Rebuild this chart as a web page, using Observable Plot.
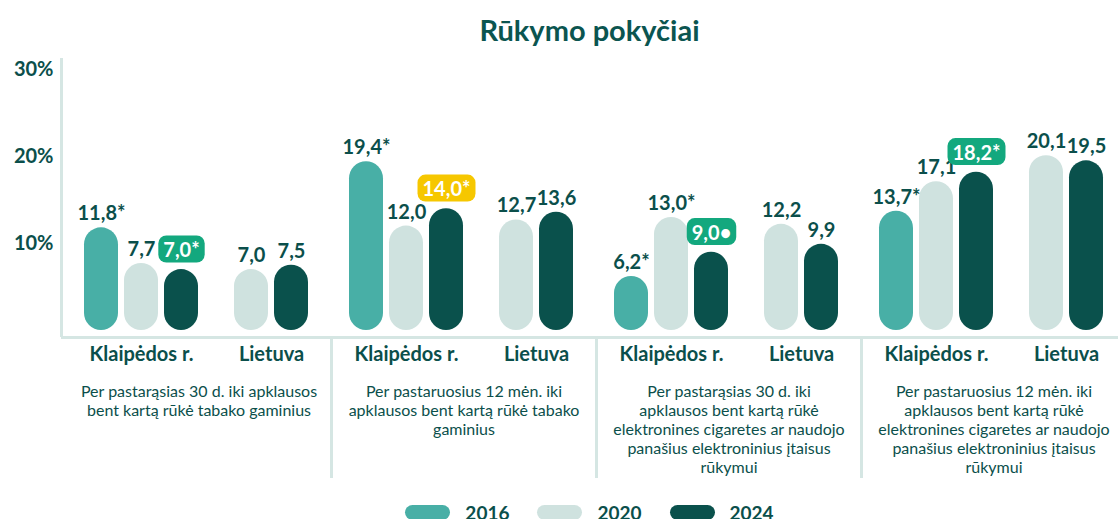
<!DOCTYPE html>
<html><head><meta charset="utf-8">
<script src="https://cdn.jsdelivr.net/npm/d3@7"></script>
<script src="https://cdn.jsdelivr.net/npm/@observablehq/plot@0.6"></script>
<style>
body{margin:0;background:#fff;font-family:Lato, "Noto Sans", sans-serif;color:#0b4f4b;width:1118px;overflow:hidden;}
#title{height:48px;box-sizing:border-box;padding-left:61px;padding-top:15px;text-align:center;font-weight:700;font-size:29px;line-height:1;color:#0b5550;}
#chart svg{display:block;}
#legend{display:flex;justify-content:center;padding-left:61px;margin-top:5px;height:20px;align-items:flex-start;}
.item{display:flex;align-items:center;margin:0 14px;}
.sw{width:45px;height:15px;border-radius:8px;margin-right:15px;}
.lab{font-weight:700;font-size:19px;line-height:15px;}
</style></head><body>
<div id="title">Rūkymo pokyčiai</div>
<div id="chart"></div>
<div id="legend"></div>
<script>
// ---- data ----
const sections = [
  "Per pastarąsias 30 d. iki apklausos\nbent kartą rūkė tabako gaminius",
  "Per pastaruosius 12 mėn. iki\napklausos bent kartą rūkė tabako\ngaminius",
  "Per pastarąsias 30 d. iki\napklausos bent kartą rūkė\nelektronines cigaretes ar naudojo\npanašius elektroninius įtaisus\nrūkymui",
  "Per pastaruosius 12 mėn. iki\napklausos bent kartą rūkė\nelektronines cigaretes ar naudojo\npanašius elektroninius įtaisus\nrūkymui"
];
const regions = ["Klaipėdos r.", "Lietuva"];
const years = [2016, 2020, 2024];
const klaipedaValues = [[11.8, 7.7, 7.0], [19.4, 12.0, 14.0], [6.2, 13.0, 9.0], [13.7, 17.1, 18.2]];
const klaipedaMarks = [["*", "", "*"], ["*", "", "*"], ["*", "*", "•"], ["*", "", "*"]];
const klaipedaBadges = [[null, null, "sig"], [null, null, "warn"], [null, null, "sig"], [null, null, "sig"]];
const lietuvaYears = [2020, 2024];
const lietuvaValues = [[7.0, 7.5], [12.7, 13.6], [12.2, 9.9], [20.1, 19.5]];
const yTicks = [10, 20, 30];

// ---- styles / layout ----
const yearColors = ["#48afa6", "#cfe2df", "#0a514c"];
const badgeColor = {sig: "#13a87e", warn: "#f6c700"};
const ink = "#0b4f4b";
const lineColor = "#d5e6e3";
const sectionSpan = 6.625, firstOffset = 0.875, lietuvaOffset = 3.75, halfBar = 0.425;

const rows = [];
sections.forEach((desc, s) => {
  years.forEach((y, j) => rows.push({section: s, region: regions[0], year: y, value: klaipedaValues[s][j], mark: klaipedaMarks[s][j], badge: klaipedaBadges[s][j]}));
  lietuvaYears.forEach((y, j) => rows.push({section: s, region: regions[1], year: y, value: lietuvaValues[s][j], mark: "", badge: null}));
});
const pos = d => d.section * sectionSpan + firstOffset +
  (d.region === regions[0] ? years.indexOf(d.year) : lietuvaOffset + lietuvaYears.indexOf(d.year));
const fmt = d => d.value.toFixed(1).replace(".", ",") + d.mark;
const plain = rows.filter(d => !d.badge);
const badged = rows.filter(d => d.badge);

const regionRows = [];
sections.forEach((desc, s) => regions.forEach((r, k) => regionRows.push({section: s, region: r,
  x: s * sectionSpan + firstOffset + (k === 0 ? (years.length - 1) / 2 : lietuvaOffset + (lietuvaYears.length - 1) / 2)})));
const descRows = sections.map((t, s) => ({t, x: s * sectionSpan + sectionSpan / 2}));
const boundaries = d3.range(1, sections.length).map(s => s * sectionSpan);

const chart = Plot.plot({
  width: 1118, height: 452,
  marginLeft: 66, marginRight: 0, marginTop: 21, marginBottom: 170,
  style: {fontFamily: "Lato, 'Noto Sans', sans-serif", color: ink, background: "#fff"},
  x: {domain: [0, (1118 - 66) / 40], axis: null},
  y: {domain: [0, 30], axis: null},
  color: {type: "ordinal", domain: years, range: yearColors},
  marks: [
    Plot.ruleY([0], {dy: 7, insetLeft: -5, stroke: lineColor, strokeWidth: 3}),
    Plot.ruleX([0], {dx: -5, insetTop: -11, insetBottom: -7, stroke: lineColor, strokeWidth: 3}),
    Plot.ruleX(boundaries, {x: d => d, insetTop: 269, insetBottom: -148, stroke: lineColor, strokeWidth: 3}),
    Plot.axisY(yTicks, {tickFormat: d => d + "%", tickSize: 0, tickPadding: 13, fontSize: 20, fontWeight: 700, label: null}),
    Plot.rect(rows, {x1: d => pos(d) - halfBar, x2: d => pos(d) + halfBar, y1: 0, y2: "value", fill: "year", rx: 17}),
    Plot.text(plain, {x: pos, y: "value", text: fmt, dy: -14, fontSize: 20, fontWeight: 700, fill: ink}),
    Plot.text(badged, {x: pos, y: "value", text: fmt, dy: -19, fontSize: 20, fontWeight: 700, fill: "white"}),
    Plot.text(regionRows, {x: "x", text: "region", frameAnchor: "bottom", dy: 30, fontSize: 20, fontWeight: 700, fill: ink}),
    Plot.text(descRows, {x: "x", text: "t", frameAnchor: "bottom", lineAnchor: "top", dy: 53, fontSize: 16, lineHeight: 1.19, fill: ink})
  ]
});
document.getElementById("chart").append(chart);

const badgeTexts = Array.from(chart.querySelectorAll("text")).filter(t => {
  const g = t.closest("g");
  return g && g.getAttribute("fill") === "white";
});
badgeTexts.forEach((t, i) => {
  if (!badged[i]) return;
  const b = t.getBBox();
  const r = document.createElementNS("http://www.w3.org/2000/svg", "rect");
  r.setAttribute("x", b.x - 5);
  r.setAttribute("y", b.y - 1.5);
  r.setAttribute("width", b.width + 10);
  r.setAttribute("height", b.height + 3);
  r.setAttribute("rx", 8);
  r.setAttribute("fill", badgeColor[badged[i].badge]);
  const tr = t.getAttribute("transform");
  if (tr) r.setAttribute("transform", tr);
  t.parentNode.insertBefore(r, t);
});

const legend = document.getElementById("legend");
years.forEach((y, i) => {
  const it = document.createElement("div"); it.className = "item";
  const sw = document.createElement("div"); sw.className = "sw"; sw.style.background = yearColors[i];
  const lb = document.createElement("div"); lb.className = "lab"; lb.textContent = y;
  it.append(sw, lb); legend.append(it);
});
</script>
</body></html>
